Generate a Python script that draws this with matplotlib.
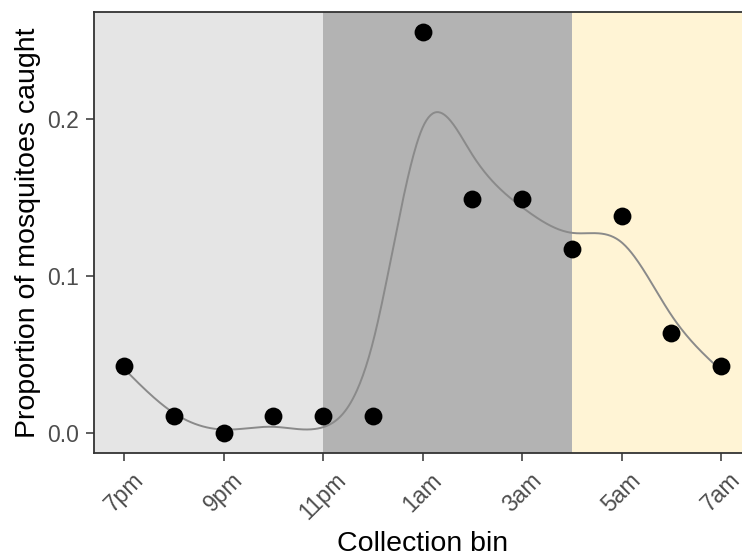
import numpy as np
import matplotlib
matplotlib.use('Agg')
import matplotlib.pyplot as plt

plt.rcParams['font.family'] = ['Liberation Sans', 'DejaVu Sans']

# hourly collection bins, 7pm .. 7am
hours = list(range(13))
tick_hours = [0, 2, 4, 6, 8, 10, 12]
tick_labels = ['7pm', '9pm', '11pm', '1am', '3am', '5am', '7am']
counts = [4, 1, 0, 1, 1, 1, 24, 14, 14, 11, 13, 6, 4]
total = 94
proportion = [c / total for c in counts]

# shaded periods of the night (start, end in hours after 7pm)
period_edges = [4, 9]
period_colors = ['#E5E5E5', '#B3B3B3', '#FFF4D5']


def smooth_spline(x, y, lam, step=0.02):
    # discretised cubic smoothing spline (penalised second differences)
    grid = np.arange(min(x), max(x) + step / 2, step)
    n = len(grid)
    idx = np.round((np.asarray(x) - grid[0]) / step).astype(int)
    S = np.zeros((len(x), n))
    S[np.arange(len(x)), idx] = 1.0
    D = np.diff(np.eye(n), 2, axis=0) / step ** 2
    A = S.T @ S + lam * step * (D.T @ D)
    f = np.linalg.solve(A, S.T @ np.asarray(y))
    return grid, f


fig = plt.figure(figsize=(7.42, 5.56), dpi=100)
ax = fig.add_axes([94.2 / 742, 103 / 556, 656.7 / 742, 441 / 556])

pad_x = 0.05 * (max(hours) - min(hours))
pad_y = 0.05 * (max(proportion) - min(proportion))
xlim = (min(hours) - pad_x, max(hours) + pad_x)
ax.set_xlim(xlim)
ax.set_ylim(min(proportion) - pad_y, max(proportion) + pad_y)

edges = [xlim[0]] + period_edges + [xlim[1]]
for a, b, c in zip(edges[:-1], edges[1:], period_colors):
    ax.axvspan(a, b, color=c, lw=0, zorder=0)

gx, gy = smooth_spline(hours, proportion, lam=0.075)
ax.plot(gx, gy, color='#8A8A8A', lw=1.4, zorder=2)
ax.scatter(hours, proportion, s=165, color='black', zorder=3, lw=0)

ax.set_xticks(tick_hours)
ax.set_xticklabels(tick_labels, rotation=45, ha='center', va='top')
ax.set_yticks([0.0, 0.1, 0.2])
ax.set_yticklabels(['0.0', '0.1', '0.2'])
ax.tick_params(labelsize=16.5, labelcolor='#4D4D4D', color='#333333',
               length=6, width=1.1, pad=5)
ax.spines['right'].set_visible(False)
for s in ['left', 'top', 'bottom']:
    ax.spines[s].set_color('#333333')
    ax.spines[s].set_linewidth(1.3)

ax.set_xlabel('Collection bin', fontsize=20.5, labelpad=5)
ax.set_ylabel('Proportion of mosquitoes caught', fontsize=20.5, labelpad=4)

fig.savefig('out.png', dpi=100)
